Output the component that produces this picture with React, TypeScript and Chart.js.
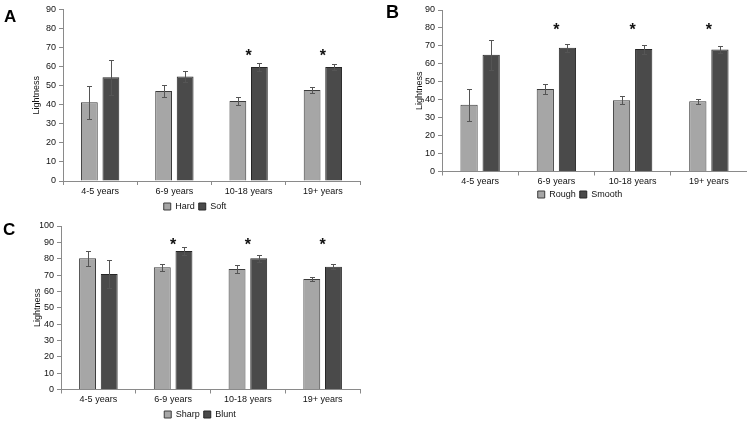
import React, { useEffect, useRef } from "react";
import { Chart, registerables } from "chart.js";

Chart.register(...registerables);

const FONT = "'Liberation Sans', Arial, sans-serif";
Chart.defaults.font.family = FONT;

// ---- data ----
const categories = ["4-5 years", "6-9 years", "10-18 years", "19+ years"];

const hardValues = [41.3, 47.2, 42.0, 47.7];
const hardErrors = [8.8, 3.0, 2.2, 1.7];
const softValues = [54.4, 54.9, 59.8, 59.8];
const softErrors = [9.3, 2.8, 2.2, 1.5];
const starsA = [false, false, true, true];
const starLevelA = 67.5;

const roughValues = [37.2, 46.0, 39.7, 39.2];
const roughErrors = [8.9, 2.6, 2.3, 1.4];
const smoothValues = [65.1, 69.0, 68.2, 68.0];
const smoothErrors = [8.4, 2.3, 2.5, 1.7];
const starsB = [false, true, true, true];
const starLevelB = 80.5;

const sharpValues = [80.2, 74.8, 73.7, 67.6];
const sharpErrors = [4.6, 2.2, 2.6, 1.5];
const bluntValues = [70.6, 84.7, 80.2, 75.1];
const bluntErrors = [8.7, 2.3, 2.0, 1.5];
const starsC = [false, true, true, true];
const starLevelC = 90.5;

const yTitle = "Lightness";

// ---- styles ----
const LIGHT = "#a6a6a6";
const LIGHT_BORDER = "#3c3c3c";
const DARK = "#4a4a4a";
const DARK_BORDER = "#262626";
const AXIS = "#8a8a8a";
const TEXT = "#111111";

const marksPlugin = {
  id: "panelMarks",
  afterDatasetsDraw(chart: any, _args: any, opts: any) {
    const { ctx } = chart;
    const x = chart.scales.x;
    const y = chart.scales.y;
    ctx.save();
    chart.data.datasets.forEach((ds: any, di: number) => {
      const meta = chart.getDatasetMeta(di);
      meta.data.forEach((bar: any, i: number) => {
        const v = ds.data[i];
        const e = ds.errors[i];
        const cx = Math.round(bar.x) + 0.5;
        const yt = Math.round(y.getPixelForValue(v + e)) + 0.5;
        const yb = Math.round(y.getPixelForValue(v - e)) + 0.5;
        ctx.strokeStyle = "#555555";
        ctx.lineWidth = 1;
        ctx.beginPath();
        ctx.moveTo(cx, yt);
        ctx.lineTo(cx, yb);
        ctx.moveTo(cx - 2.5, yt);
        ctx.lineTo(cx + 2.5, yt);
        ctx.moveTo(cx - 2.5, yb);
        ctx.lineTo(cx + 2.5, yb);
        ctx.stroke();
      });
    });
    const size = 16;
    ctx.fillStyle = "#111";
    ctx.font = `bold ${size}px ${FONT}`;
    ctx.textAlign = "center";
    ctx.textBaseline = "alphabetic";
    (opts.stars || []).forEach((s: boolean, i: number) => {
      if (!s) return;
      const px = x.getPixelForValue(i);
      const py = y.getPixelForValue(opts.starLevel);
      ctx.fillText("*", px, py + size * 0.52);
    });
    ctx.restore();
  },
};

type PanelProps = {
  left: number;
  top: number;
  width: number;
  height: number;
  names: [string, string];
  values: [number[], number[]];
  errors: [number[], number[]];
  stars: boolean[];
  starLevel: number;
  yMax: number;
  padL: number;
  padR: number;
  padTop: number;
  yWidth: number;
  xHeight: number;
  titleOffset: number;
};

function Panel(p: PanelProps) {
  const ref = useRef<HTMLCanvasElement | null>(null);
  useEffect(() => {
    if (!ref.current) return;
    const tickFont = { family: FONT, size: 9 };
    const chart = new Chart(ref.current, {
      type: "bar",
      data: {
        labels: categories,
        datasets: [
          {
            label: p.names[0],
            data: p.values[0],
            errors: p.errors[0],
            backgroundColor: LIGHT,
            borderColor: LIGHT_BORDER,
            borderWidth: 1,
            categoryPercentage: 0.58,
            barPercentage: 0.78,
          } as any,
          {
            label: p.names[1],
            data: p.values[1],
            errors: p.errors[1],
            backgroundColor: DARK,
            borderColor: DARK_BORDER,
            borderWidth: 1,
            categoryPercentage: 0.58,
            barPercentage: 0.78,
          } as any,
        ],
      },
      options: {
        animation: false,
        responsive: false,
        maintainAspectRatio: false,
        layout: { padding: { left: p.padL, right: p.padR, top: p.padTop, bottom: 0 } },
        plugins: {
          legend: {
            position: "bottom",
            labels: {
              boxWidth: 7,
              boxHeight: 7,
              padding: 4,
              color: TEXT,
              font: { family: FONT, size: 9 },
            },
          },
          tooltip: { enabled: false },
          panelMarks: { stars: p.stars, starLevel: p.starLevel },
        } as any,
        scales: {
          x: {
            grid: {
              display: true,
              drawOnChartArea: false,
              drawTicks: true,
              tickLength: 4,
              color: AXIS,
              offset: true,
            },
            border: { color: AXIS },
            ticks: { color: TEXT, font: tickFont, padding: 1, maxRotation: 0 },
            afterFit: (s: any) => {
              s.height = p.xHeight;
            },
          },
          y: {
            min: 0,
            max: p.yMax,
            ticks: { stepSize: 10, color: TEXT, font: tickFont, padding: 3 },
            grid: { drawOnChartArea: false, tickLength: 4, color: AXIS },
            border: { color: AXIS },
            title: {
              display: true,
              text: yTitle,
              color: TEXT,
              font: { family: FONT, size: 9 },
              padding: { top: p.titleOffset, bottom: 0 },
            },
            afterFit: (s: any) => {
              s.width = p.yWidth;
            },
          },
        },
      } as any,
      plugins: [marksPlugin],
    });
    return () => chart.destroy();
  }, []);
  return (
    <canvas
      ref={ref}
      width={p.width}
      height={p.height}
      style={{ position: "absolute", left: p.left, top: p.top, width: p.width, height: p.height }}
    />
  );
}

const letterStyle: React.CSSProperties = {
  position: "absolute",
  fontFamily: FONT,
  fontWeight: "bold",
  lineHeight: 1,
  color: "#000",
};

export default function App() {
  return (
    <div
      style={{
        position: "fixed",
        left: 0,
        top: 0,
        width: 747,
        height: 421,
        overflow: "hidden",
        background: "#fff",
      }}
    >
      <Panel
        left={0}
        top={0}
        width={372}
        height={221}
        names={["Hard", "Soft"]}
        values={[hardValues, softValues]}
        errors={[hardErrors, softErrors]}
        stars={starsA}
        starLevel={starLevelA}
        yMax={90}
        padL={30}
        padR={12}
        padTop={9.5}
        yWidth={33}
        xHeight={17}
        titleOffset={1}
      />
      <Panel
        left={380}
        top={0}
        width={367}
        height={209}
        names={["Rough", "Smooth"]}
        values={[roughValues, smoothValues]}
        errors={[roughErrors, smoothErrors]}
        stars={starsB}
        starLevel={starLevelB}
        yMax={90}
        padL={33}
        padR={0}
        padTop={10}
        yWidth={29}
        xHeight={14.5}
        titleOffset={1.5}
      />
      <Panel
        left={0}
        top={210}
        width={372}
        height={219}
        names={["Sharp", "Blunt"]}
        values={[sharpValues, bluntValues]}
        errors={[sharpErrors, bluntErrors]}
        stars={starsC}
        starLevel={starLevelC}
        yMax={100}
        padL={40}
        padR={12}
        padTop={16}
        yWidth={21}
        xHeight={16.5}
        titleOffset={-7.4}
      />
      <div style={{ ...letterStyle, left: 4, top: 8, fontSize: 17 }}>A</div>
      <div style={{ ...letterStyle, left: 386, top: 3, fontSize: 18 }}>B</div>
      <div style={{ ...letterStyle, left: 3, top: 221, fontSize: 17 }}>C</div>
    </div>
  );
}
